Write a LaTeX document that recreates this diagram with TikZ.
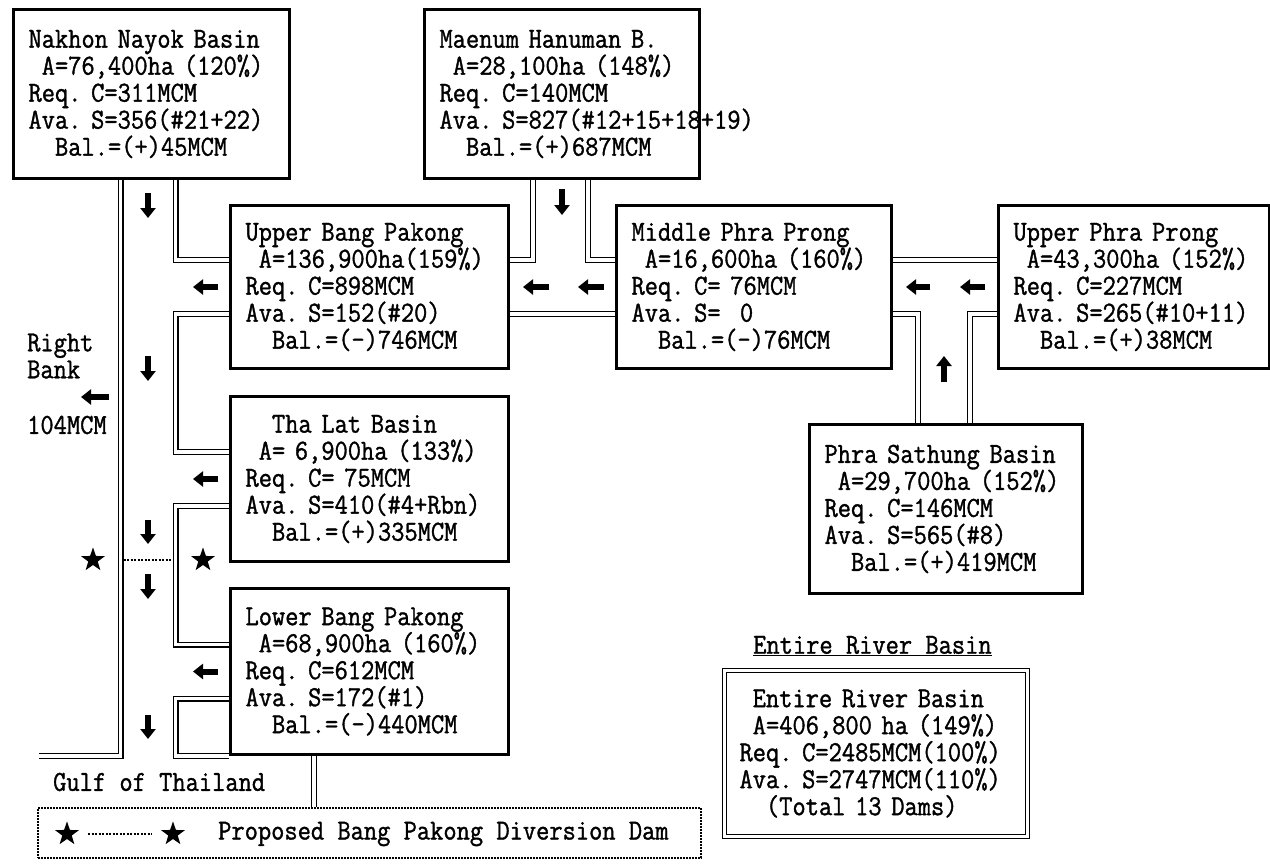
\documentclass[tikz,border=0pt]{standalone}
\usepackage{fontspec}
\newfontfamily\dfont[FakeStretch=0.887,FakeBold=1.2]{Latin Modern Mono}
\usetikzlibrary{arrows.meta,shapes.geometric}
\newcommand\blk{\hphantom{0}}
\begin{document}
\begin{tikzpicture}[x=1pt,y=-1pt,
  every node/.style={font={\dfont\fontsize{29}{27}\selectfont\lineskiplimit=-50pt}},
  basin/.style={draw, line width=3pt, anchor=north west, align=left, inner xsep=15pt, inner ysep=0pt},
  bank/.style={draw, line width=1.3pt, double=white, double distance=3.4pt},
  flow/.style={line width=6pt, -{Triangle[length=10pt,width=15pt]}},
  star5/.style={star, star points=5, star point ratio=2.5, fill=black, minimum size=25pt, inner sep=0pt},
  damline/.style={line width=2pt, dash pattern=on 2pt off 1.5pt},
  lbl/.style={anchor=west, inner sep=0pt, align=left}
]
\useasboundingbox (0,0) rectangle (1270,863);

% basins
\node[basin, text width=246pt, minimum height=169pt] (nakhon) at (12,8)
 {Nakhon~Nayok~Basin\\\blk A=76,400ha~(120\%)\\Req.~C=311MCM\\Ava.~S=356(\#21+22)\\\blk\blk Bal.=(+)45MCM};
\node[basin, text width=245pt, minimum height=169pt] (maenum) at (423,8)
 {Maenum~Hanuman~B.\\\blk A=28,100ha~(148\%)\\Req.~C=140MCM\\Ava.~S=827(\#12+15+18+19)\\\blk\blk Bal.=(+)687MCM};
\node[basin, text width=248pt, minimum height=163pt] (ubp) at (229,204)
 {Upper~Bang~Pakong\\\blk A=136,900ha(159\%)\\Req.~C=898MCM\\Ava.~S=152(\#20)\\\blk\blk Bal.=(-)746MCM};
\node[basin, text width=245pt, minimum height=163pt] (mpp) at (615,204)
 {Middle~Phra~Prong\\\blk A=16,600ha~(160\%)\\Req.~C=~76MCM\\Ava.~S=~~0\\\blk\blk Bal.=(-)76MCM};
\node[basin, text width=241pt, minimum height=163pt] (upp) at (997,204)
 {Upper~Phra~Prong\\\blk A=43,300ha~(152\%)\\Req.~C=227MCM\\Ava.~S=265(\#10+11)\\\blk\blk Bal.=(+)38MCM};
\node[basin, text width=248pt, minimum height=165pt] (thalat) at (229,395)
 {\blk\blk Tha~Lat~Basin\\\blk A=~6,900ha~(133\%)\\Req.~C=~75MCM\\Ava.~S=410(\#4+Rbn)\\\blk\blk Bal.=(+)335MCM};
\node[basin, text width=243pt, minimum height=169pt] (ps) at (808,423)
 {Phra~Sathung~Basin\\\blk A=29,700ha~(152\%)\\Req.~C=146MCM\\Ava.~S=565(\#8)\\\blk\blk Bal.=(+)419MCM};
\node[basin, text width=248pt, minimum height=166pt] (lbp) at (229,587)
 {Lower~Bang~Pakong\\\blk A=68,900ha~(160\%)\\Req.~C=612MCM\\Ava.~S=172(\#1)\\\blk\blk Bal.=(-)440MCM};

% entire basin
\node[lbl] (erbhead) at (753,646) {\underline{Entire~River~Basin}};
\node[draw, line width=1pt, double, double distance=3.5pt, anchor=north west, align=left,
  text width=273pt, inner xsep=15pt, inner ysep=0pt, minimum height=166pt] (erb) at (724,670)
 {\blk Entire~River~Basin\\\blk A=406,800~ha~(149\%)\\Req.~C=2485MCM(100\%)\\Ava.~S=2747MCM(110\%)\\\blk\blk(Total~13~Dams)};

% legend
\node[draw, line width=1.5pt, dash pattern=on 2pt off 1pt, anchor=north west, minimum width=663pt,
  minimum height=50pt, inner sep=0pt] (legend) at (37,807) {};
\node[star5] (ls1) at (67,834) {};
\node[star5] (ls2) at (173,834) {};
\draw[damline, shorten <=14pt, shorten >=14pt] (ls1) -- (ls2);
\node[lbl] (legtext) at (218,834) {Proposed~Bang~Pakong~Diversion~Dam};

% free labels
\node[lbl] (rb) at (27,356) {Right\\Bank};
\node[lbl] (rbq) at (27,425) {104MCM};
\node[lbl] (gulf) at (53,782) {Gulf~of~Thailand};

% bank coordinates
\coordinate (L) at (120.5,0);
\coordinate (R) at (175.5,0);
\coordinate (M1) at (533,0);
\coordinate (M2) at (588,0);
\coordinate (P1) at (918,0);
\coordinate (P2) at (970,0);
\coordinate (G) at (314,0);
\coordinate (CL) at (39,0);
\path ([yshift=27pt]ubp.west) coordinate (ubpA) ([yshift=-27pt]ubp.west) coordinate (ubpV)
      ([yshift=27pt]ubp.east) coordinate (ubpAE) ([yshift=-27pt]ubp.east) coordinate (ubpVE)
      ([yshift=27pt]thalat.west) coordinate (thA) ([yshift=-27pt]thalat.west) coordinate (thV)
      ([yshift=27pt]lbp.west) coordinate (lbA) ([yshift=-27pt]lbp.west) coordinate (lbV)
      ([yshift=27pt]mpp.west) coordinate (mppA) ([yshift=-27pt]mpp.west) coordinate (mppV)
      ([yshift=27pt]mpp.east) coordinate (mppAE) ([yshift=-27pt]mpp.east) coordinate (mppVE)
      ([yshift=27pt]upp.west) coordinate (uppA) ([yshift=-27pt]upp.west) coordinate (uppV);

% river banks
\draw[bank] (nakhon.south -| L) -- (L |- lbp.south) -- (CL |- lbp.south);
\draw[bank] (nakhon.south -| R) |- (ubpA);
\draw[bank] (ubpV) -| (R |- thA) -- (thA);
\draw[bank] (thV) -| (R |- lbA) -- (lbA);
\draw[bank] (lbV) -| (R |- lbp.south) -- (lbp.south west);
\draw[bank] (lbp.south -| G) -- (legend.north -| G);
\draw[bank] (maenum.south -| M1) |- (ubpAE);
\draw[bank] (maenum.south -| M2) |- (mppA);
\draw[bank] (mppV) -- (ubpVE);
\draw[bank] (uppA) -- (mppAE);
\draw[bank] (mppVE) -| (ps.north -| P1);
\draw[bank] (uppV) -| (ps.north -| P2);

% dam
\node[star5] (damL) at (93,560) {};
\node[star5] (damR) at (203,560) {};
\draw[damline, shorten <=3pt, shorten >=3pt] (L |- damL) -- (R |- damL);

% flow arrows
\draw[flow] (148,193) -- (148,218);
\draw[flow] (148,356) -- (148,381);
\draw[flow] (148,520) -- (148,544);
\draw[flow] (148,574) -- (148,599);
\draw[flow] (148,715) -- (148,739);
\draw[flow] (562,189) -- (562,215);
\draw[flow] (944,382) -- (944,356);
\draw[flow] ([xshift=-11pt]ubp.west) -- ([xshift=-36pt]ubp.west);
\draw[flow] ([xshift=-11pt]thalat.west) -- ([xshift=-36pt]thalat.west);
\draw[flow] ([xshift=-11pt]lbp.west) -- ([xshift=-36pt]lbp.west);
\draw[flow] ([xshift=-11pt]mpp.west) -- ([xshift=-37pt]mpp.west);
\draw[flow] ([xshift=-66pt]mpp.west) -- ([xshift=-92pt]mpp.west);
\draw[flow] ([xshift=-12pt]upp.west) -- ([xshift=-37pt]upp.west);
\draw[flow] ([xshift=-67pt]upp.west) -- ([xshift=-91pt]upp.west);
\draw[flow] (109,397) -- (81,397);
\end{tikzpicture}
\end{document}
